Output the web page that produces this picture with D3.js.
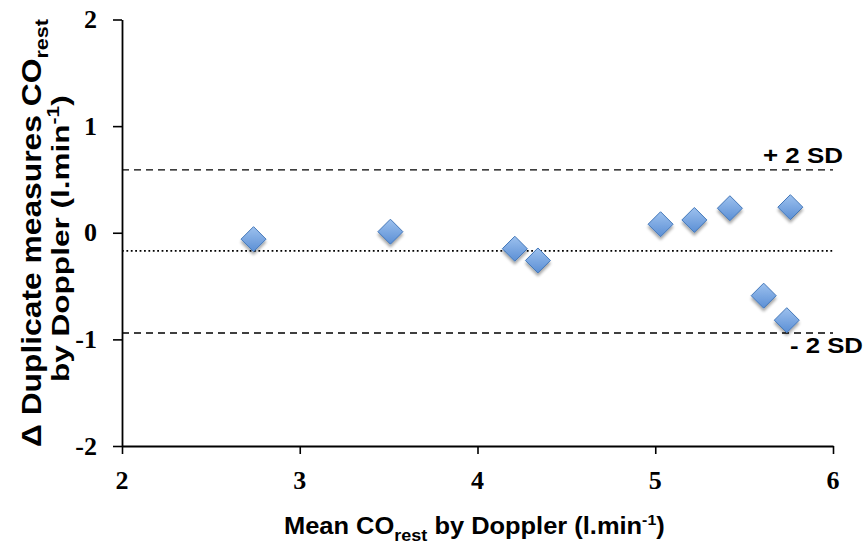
<!DOCTYPE html>
<html>
<head>
<meta charset="utf-8">
<script src="https://cdn.jsdelivr.net/npm/d3@7"></script>
<style>
  html, body { margin: 0; padding: 0; background: #fff; }
  svg { display: block; }
  .tick-label { font-family: "Liberation Serif", "Times New Roman", serif; font-weight: bold; font-size: 26px; fill: #000; }
  .title { font-family: "Liberation Sans", Arial, sans-serif; font-weight: bold; fill: #000; }
</style>
</head>
<body>
<svg id="chart" width="865" height="554"></svg>
<script>
// Mean of duplicate Doppler CO measurements vs. their difference
const meanCO = [2.74, 3.51, 4.21, 4.34, 5.03, 5.22, 5.42, 5.76, 5.61, 5.74];
const diffCO = [-0.06, 0.01, -0.15, -0.26, 0.08, 0.12, 0.23, 0.24, -0.59, -0.82];

// Bias and limits of agreement
const biasValue = -0.17;
const limitValues = [0.59, -0.94];
const limitLabels = ["+ 2 SD", "- 2 SD"];

const xTicks = [2, 3, 4, 5, 6];
const yTicks = [2, 1, 0, -1, -2];

const svg = d3.select("#chart");
const x = d3.scaleLinear().domain([2, 6]).range([122, 833]);
const y = d3.scaleLinear().domain([-2, 2]).range([446, 19.5]);

// Marker gradient and soft drop shadow
const defs = svg.append("defs");
const grad = defs.append("linearGradient").attr("id", "diamondFill")
  .attr("x1", "0").attr("y1", "0").attr("x2", "0").attr("y2", "1");
grad.append("stop").attr("offset", "0%").attr("stop-color", "#9dc1ee");
grad.append("stop").attr("offset", "100%").attr("stop-color", "#5b8fd5");
const shadow = defs.append("filter").attr("id", "shadow")
  .attr("x", "-50%").attr("y", "-50%").attr("width", "200%").attr("height", "200%");
shadow.append("feGaussianBlur").attr("in", "SourceAlpha").attr("stdDeviation", 1.8).attr("result", "blur");
shadow.append("feOffset").attr("in", "blur").attr("dx", 0).attr("dy", 3).attr("result", "off");
shadow.append("feComponentTransfer").attr("in", "off").attr("result", "shade")
  .append("feFuncA").attr("type", "linear").attr("slope", 0.35);
const merge = shadow.append("feMerge");
merge.append("feMergeNode").attr("in", "shade");
merge.append("feMergeNode").attr("in", "SourceGraphic");

// Axes
const yAxis = d3.axisLeft(y).tickValues(yTicks).tickSize(9).tickSizeOuter(0).tickFormat("");
const gy = svg.append("g").attr("transform", `translate(${x(2)},0)`).call(yAxis);
const xAxis = d3.axisBottom(x).tickValues(xTicks).tickSize(8).tickSizeOuter(0).tickFormat("");
const gx = svg.append("g").attr("transform", `translate(0,${y(-2)})`).call(xAxis);
[gx, gy].forEach(g => {
  g.select(".domain").attr("stroke", "#000").attr("stroke-width", 1.8);
  g.selectAll(".tick line").attr("stroke", "#000").attr("stroke-width", 1.6);
});

svg.selectAll(".ytl").data(yTicks).enter().append("text")
  .attr("class", "tick-label").attr("text-anchor", "end")
  .attr("x", 97).attr("y", d => y(d)).attr("dy", "0.33em")
  .text(d => d);
svg.selectAll(".xtl").data(xTicks).enter().append("text")
  .attr("class", "tick-label").attr("text-anchor", "middle")
  .attr("x", d => x(d)).attr("y", 489)
  .text(d => d);

// Bias (dotted) and limits of agreement (dashed)
svg.append("line")
  .attr("x1", x(2)).attr("x2", x(6))
  .attr("y1", y(biasValue)).attr("y2", y(biasValue))
  .attr("stroke", "#000").attr("stroke-width", 1.8).attr("stroke-dasharray", "1.8,2.6");
svg.selectAll(".limit").data(limitValues).enter().append("line")
  .attr("x1", x(2)).attr("x2", x(6))
  .attr("y1", d => y(d)).attr("y2", d => y(d))
  .attr("stroke", "#000").attr("stroke-width", 1.4).attr("stroke-dasharray", "7,5");

// Text whose run is stretched to span a given length
function fittedText(transform, length, size, parts) {
  const g = svg.append("g");
  const t = g.append("text").attr("class", "title").style("font-size", size + "px");
  parts(t);
  const w = t.node().getBBox().width;
  g.attr("transform", `${transform} scale(${length / w},1)`);
  return g;
}

fittedText(`translate(763,163)`, 80, 22, t => t.text(limitLabels[0]));
fittedText(`translate(790,353)`, 73, 22, t => t.text(limitLabels[1]));

// Points as diamonds
const r = 12.5;
const diamond = `M0,${-r}L${r},0L0,${r}L${-r},0Z`;
svg.selectAll(".pt").data(meanCO).enter().append("path")
  .attr("d", diamond)
  .attr("transform", (d, i) => `translate(${x(d)},${y(diffCO[i])})`)
  .attr("fill", "url(#diamondFill)")
  .attr("stroke", "#4377b9").attr("stroke-width", 1)
  .attr("filter", "url(#shadow)");

// X axis title
fittedText(`translate(284,534)`, 381, 24, t => {
  t.append("tspan").text("Mean CO");
  t.append("tspan").attr("dy", 7).style("font-size", "17px").text("rest");
  t.append("tspan").attr("dy", -7).text(" by Doppler (l.min");
  t.append("tspan").attr("dy", -9).style("font-size", "15px").text("-1");
  t.append("tspan").attr("dy", 9).text(")");
});

// Y axis title, two rotated lines
fittedText(`translate(41,447) rotate(-90)`, 429, 28, t => {
  t.append("tspan").text("Δ Duplicate measures CO");
  t.append("tspan").attr("dy", 7).style("font-size", "19px").text("rest");
});
fittedText(`translate(69,382) rotate(-90)`, 287, 24, t => {
  t.append("tspan").text("by Doppler (l.min");
  t.append("tspan").attr("dy", -10).style("font-size", "16px").text("-1");
  t.append("tspan").attr("dy", 10).text(")");
});
</script>
</body>
</html>
